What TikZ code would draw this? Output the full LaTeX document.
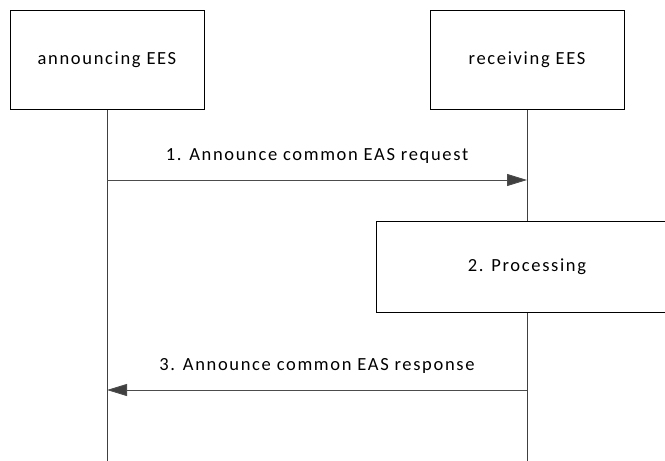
\documentclass[tikz,border=0pt]{standalone}
\usepackage{fontspec}
\setmainfont[LetterSpace=9]{Carlito}
\usetikzlibrary{arrows.meta}
\begin{document}
\begin{tikzpicture}[x=1pt,y=-1pt,
  ent/.style={draw=black,line width=1pt,minimum width=194pt,minimum height=99pt,inner sep=0pt,font=\fontsize{18.5}{21}\selectfont},
  life/.style={draw=black!75,line width=1pt},
  msg/.style={draw=black!70,line width=1pt,-{Triangle[length=20pt,width=12pt,fill=black!75]}},
  lbl/.style={font=\fontsize{18.5}{21}\selectfont,inner sep=0pt}]
\useasboundingbox (0,0) rectangle (665,461);
\clip (0,0) rectangle (665,461);
\node[ent] (a) at (107,59.5) {announcing EES};
\node[ent] (r) at (527,59.5) {receiving EES};
\node[ent,minimum width=302pt,minimum height=91pt] (p) at (527,266.5) {2. Processing};
\coordinate (aend) at (107,461);
\coordinate (rend) at (527,461);
\coordinate (a1) at (107,180);
\coordinate (r1) at (527,180);
\coordinate (a3) at (107,390);
\coordinate (r3) at (527,390);
\draw[life] (a.south) -- (aend);
\draw[life] (r.south) -- (p.north);
\draw[life] (p.south) -- (rend);
\draw[msg] (a1) -- node[lbl,above=16pt] {1. Announce common EAS request} (r1);
\draw[msg] (r3) -- node[lbl,above=16pt] {3. Announce common EAS response} (a3);
\end{tikzpicture}
\end{document}
